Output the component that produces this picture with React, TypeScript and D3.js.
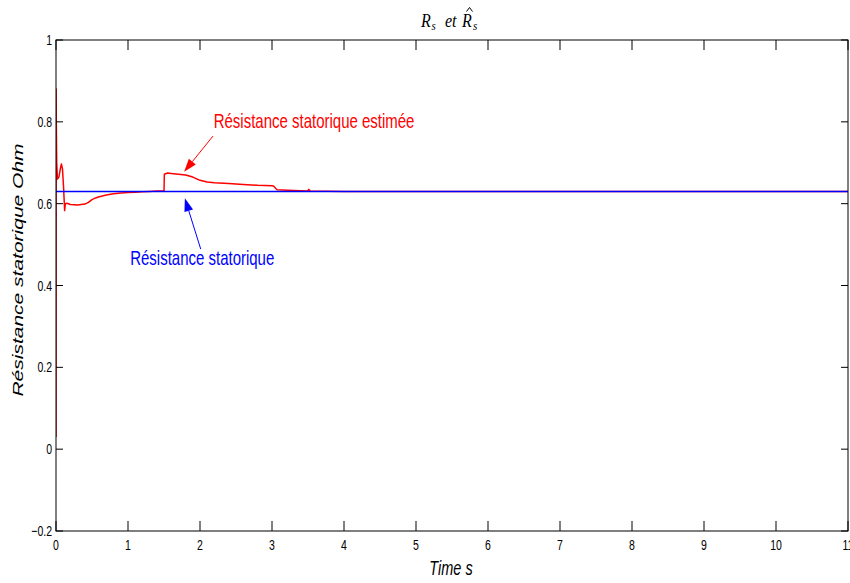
import React from "react";
import * as d3 from "d3";

const W = 850, H = 583;
const margin = { left: 56, right: 2, top: 40, bottom: 52 };

const xTicks = [0, 1, 2, 3, 4, 5, 6, 7, 8, 9, 10, 11];
const yTicks = [-0.2, 0, 0.2, 0.4, 0.6, 0.8, 1];

// Actual stator resistance
const rsT = [0, 11];
const rsV = [0.63, 0.63];

// Estimated stator resistance
const estT = [0, 0.002, 0.004, 0.01, 0.02, 0.04, 0.06, 0.075, 0.09, 0.105, 0.12, 0.13, 0.15, 0.2, 0.3, 0.4, 0.45, 0.5, 0.55, 0.6, 0.7, 0.8, 0.9, 1.0, 1.1, 1.2, 1.3, 1.4, 1.5, 1.505, 1.55, 1.6, 1.7, 1.8, 1.9, 2.0, 2.1, 2.2, 2.4, 2.6, 2.8, 3.0, 3.02, 3.07, 3.3, 3.5, 3.51, 3.53, 4.0, 5.0, 11];
const estV = [0.03, 0.88, 0.8, 0.7, 0.66, 0.665, 0.685, 0.697, 0.685, 0.64, 0.583, 0.6, 0.601, 0.598, 0.597, 0.599, 0.603, 0.61, 0.614, 0.617, 0.621, 0.624, 0.626, 0.627, 0.628, 0.629, 0.63, 0.631, 0.631, 0.672, 0.675, 0.674, 0.672, 0.67, 0.665, 0.657, 0.653, 0.651, 0.649, 0.647, 0.645, 0.644, 0.643, 0.634, 0.632, 0.631, 0.635, 0.631, 0.63, 0.63, 0.63];

// Annotations (data coordinates)
const annEst = { label: "Résistance statorique estimée", tx: 2.19, ty: 0.785, tail: [2.18, 0.765], tip: [1.78, 0.678] };
const annRs = { label: "Résistance statorique", tx: 1.03, ty: 0.45, tail: [2.01, 0.489], tip: [1.79, 0.613] };

const SY = 1.4;
const SANS = "'Liberation Sans', Arial, Helvetica, sans-serif";
const SERIF = "'Liberation Serif', 'Times New Roman', serif";

function STxt({ x, y, size, anchor = "start", fill = "#000", italic = false, rot = 0, family = SANS, sy = SY, children }: any) {
  const tr = rot ? `translate(${x},${y}) rotate(${rot}) scale(${sy},1)` : `translate(${x},${y}) scale(1,${sy})`;
  return (
    <g transform={tr}>
      <text textAnchor={anchor} fontSize={size} fill={fill} fontFamily={family} fontStyle={italic ? "italic" : "normal"}>
        {children}
      </text>
    </g>
  );
}

function Arrow({ x1, y1, x2, y2, color }: any) {
  const dx = x2 - x1, dy = y2 - y1;
  const L = Math.hypot(dx, dy);
  const ux = dx / L, uy = dy / L;
  const hl = 13, hw = 4.5;
  const bx = x2 - ux * hl, by = y2 - uy * hl;
  const px = -uy, py = ux;
  const pts = [[x2, y2], [bx + px * hw, by + py * hw], [bx - px * hw, by - py * hw]];
  return (
    <g>
      <line x1={x1} y1={y1} x2={bx} y2={by} stroke={color} strokeWidth={1} />
      <polygon points={pts.map(p => p.join(",")).join(" ")} fill={color} />
    </g>
  );
}

export default function App() {
  const x = d3.scaleLinear().domain([0, 11]).range([margin.left, W - margin.right]);
  const y = d3.scaleLinear().domain([-0.2, 1]).range([H - margin.bottom, margin.top]);
  const line = d3.line<[number, number]>().x(d => x(d[0])).y(d => y(d[1]));
  const estPts = estT.map((t, i) => [t, estV[i]] as [number, number]);
  const rsPts = rsT.map((t, i) => [t, rsV[i]] as [number, number]);
  const x0 = x(0), x1 = x(11), y0 = y(-0.2), y1 = y(1);
  const tickX = 10, tickY = 7;

  return (
    <svg width={W} height={H} style={{ position: "absolute", left: 0, top: 0, background: "#fff" }}>
      <rect x={0} y={0} width={W} height={H} fill="#fff" />
      <defs>
        <clipPath id="plotclip"><rect x={x0} y={y1} width={x1 - x0} height={y0 - y1} /></clipPath>
      </defs>
      <g clipPath="url(#plotclip)">
        <path d={line(estPts) || ""} fill="none" stroke="#ff0000" strokeWidth={1.5} strokeLinejoin="round" />
        <path d={line(rsPts) || ""} fill="none" stroke="#0000ff" strokeWidth={1.5} />
      </g>
      <rect x={x0} y={y1} width={x1 - x0} height={y0 - y1} fill="none" stroke="#000" strokeWidth={1} />
      {xTicks.map(t => (
        <g key={"x" + t}>
          <line x1={x(t)} x2={x(t)} y1={y0} y2={y0 - tickX} stroke="#000" />
          <line x1={x(t)} x2={x(t)} y1={y1} y2={y1 + tickX} stroke="#000" />
          <STxt x={x(t)} y={550} size={10.5} anchor="middle">{String(t)}</STxt>
        </g>
      ))}
      {yTicks.map(v => (
        <g key={"y" + v}>
          <line x1={x0} x2={x0 + tickY} y1={y(v)} y2={y(v)} stroke="#000" />
          <line x1={x1} x2={x1 - tickY} y1={y(v)} y2={y(v)} stroke="#000" />
          <STxt x={52} y={y(v) + 5} size={10.5} anchor="end">{v < 0 ? "\u2212" + String(Math.abs(v)) : String(v)}</STxt>
        </g>
      ))}
      {/* title */}
      <STxt x={421} y={27} size={16} family={SERIF} italic sy={1.15}>R</STxt>
      <STxt x={431.5} y={30} size={11} family={SERIF} italic sy={1.15}>s</STxt>
      <STxt x={445} y={27} size={16} family={SERIF} italic sy={1.15}>et</STxt>
      <STxt x={462} y={27} size={16} family={SERIF} italic sy={1.15}>R</STxt>
      <STxt x={473} y={30} size={11} family={SERIF} italic sy={1.15}>s</STxt>
      <path d="M466.5,11.5 L469.5,7.5 L472.5,11.5" fill="none" stroke="#000" strokeWidth={1} />
      {/* axis labels */}
      <STxt x={451} y={575} size={14.5} anchor="middle" italic>Time s</STxt>
      <STxt x={23} y={270} size={15} anchor="middle" italic rot={-90}>Résistance statorique Ohm</STxt>
      {/* annotations */}
      <Arrow x1={x(annEst.tail[0])} y1={y(annEst.tail[1])} x2={x(annEst.tip[0])} y2={y(annEst.tip[1])} color="#ff0000" />
      <STxt x={x(annEst.tx)} y={y(annEst.ty)} size={15} fill="#ff0000">{annEst.label}</STxt>
      <Arrow x1={x(annRs.tail[0])} y1={y(annRs.tail[1])} x2={x(annRs.tip[0])} y2={y(annRs.tip[1])} color="#0000ff" />
      <STxt x={x(annRs.tx)} y={y(annRs.ty)} size={15} fill="#0000ff">{annRs.label}</STxt>
    </svg>
  );
}
